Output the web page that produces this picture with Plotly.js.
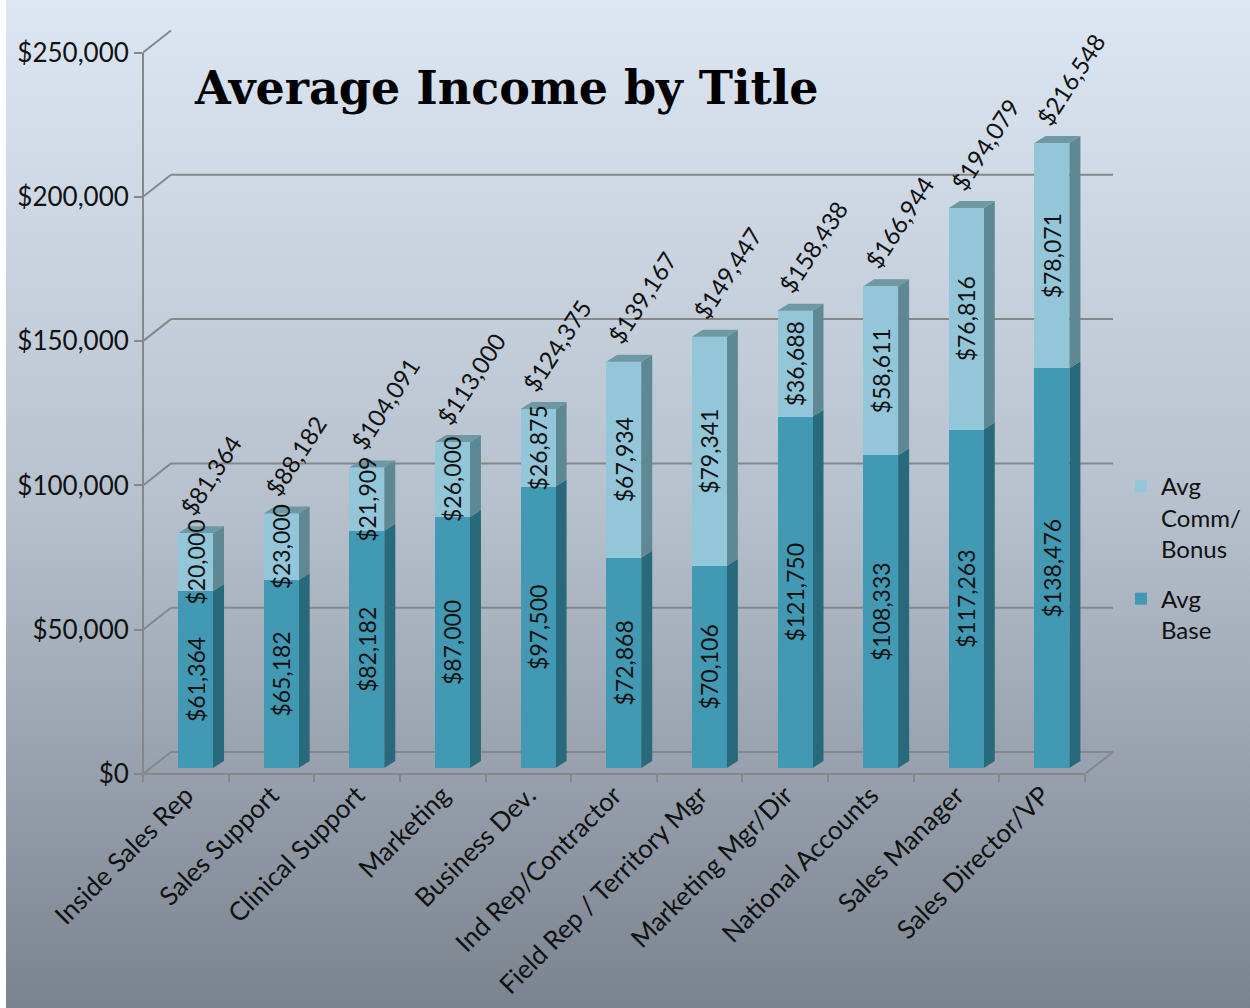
<!DOCTYPE html>
<html>
<head>
<meta charset="utf-8">
<script src="https://cdn.plot.ly/plotly-3.0.1.min.js"></script>
<style>
html,body{margin:0;padding:0;background:#ffffff;}
#chart{width:1250px;height:1008px;
background:linear-gradient(to right,#ffffff 0px,#ffffff 6px,rgba(255,255,255,0) 6px),linear-gradient(to bottom,#dde7f3 0%,#b7c1ce 50%,#7b838f 100%);}
</style>
</head>
<body>
<div id="chart"></div>
<script>
// ---------- data ----------
const categories = ['Inside Sales Rep','Sales Support','Clinical Support','Marketing','Business Dev.','Ind Rep/Contractor','Field Rep / Territory Mgr','Marketing Mgr/Dir','National Accounts','Sales Manager','Sales Director/VP'];
const avgBase = [61364,65182,82182,87000,97500,72868,70106,121750,108333,117263,138476];
const avgComm = [20000,23000,21909,26000,26875,67934,79341,36688,58611,76816,78071];
const totals = [81364,88182,104091,113000,124375,139167,149447,158438,166944,194079,216548];
const yTickVals = [0,50000,100000,150000,200000,250000];
const yTickText = ['$0','$50,000','$100,000','$150,000','$200,000','$250,000'];
const seriesNames = ['Avg<br>Base','Avg<br>Comm/<br>Bonus'];

// ---------- layout constants (pixels) ----------
const PLOT_L = 143, PLOT_R = 1122, PLOT_T = 26, PLOT_B = 774;
const PX_PER_CAT = 85.64, PX_PER_UNIT = 2.886/1000;
const xr1 = -0.5 + (PLOT_R-PLOT_L)/PX_PER_CAT;
const yr1 = (PLOT_B-PLOT_T)/PX_PER_UNIT;
const barShiftX = 9.7/PX_PER_CAT, barShiftY = 6/PX_PER_UNIT;
const depthX = 11/PX_PER_CAT, depthY = 7/PX_PER_UNIT;
const wallX = 28/PX_PER_CAT, wallY = 22/PX_PER_UNIT;
const barW = 35/PX_PER_CAT;

const FONT = 'Lato, "Open Sans", sans-serif';
const GRID = '#878787';
const TXT = '#111111';
const C_BASE = '#4299b3', C_COMM = '#93c6d8';
const C_BASE_SIDE = '#286a7b', C_COMM_SIDE = '#5e8994', C_TOP = '#6d98a4';

const fmt = v => '$' + v.toLocaleString('en-US');
const idx = categories.map((c,i)=>i);
const stackTop = idx.map(i => avgBase[i] + avgComm[i]);

// ---------- bar traces (bar plane: x2 / y2) ----------
function barTrace(name, vals, color, group, rank){
  return {
    type:'bar', name: name, legendgroup: group, legendrank: rank, x: idx, y: vals, xaxis:'x2', yaxis:'y2',
    width: barW, marker:{color:color, line:{width:0}},
    text: vals.map(fmt), textposition:'inside', insidetextanchor:'middle', textangle:-90,
    constraintext:'none', textfont:{family:FONT, size:23, color:TXT}, cliponaxis:false,
    hoverinfo:'skip'
  };
}
const baseTrace = barTrace(seriesNames[0], avgBase, C_BASE, 'base', 2);
const commTrace = barTrace(seriesNames[1], avgComm, C_COMM, 'comm', 1);

// ---------- 3D faces, drawn on the front axes (x / y) beneath the bars ----------
function facePoly(getPts){
  const xs=[], ys=[];
  idx.forEach(i=>{
    getPts(i).forEach(p=>{xs.push(p[0] + barShiftX); ys.push(p[1] + barShiftY);});
    xs.push(null); ys.push(null);
  });
  return {xs, ys};
}
const baseSide = facePoly(i=>{const xr=i+barW/2; return [[xr,0],[xr+depthX,depthY],[xr+depthX,avgBase[i]+depthY],[xr,avgBase[i]],[xr,0]];});
const commSide = facePoly(i=>{const xr=i+barW/2; return [[xr,avgBase[i]],[xr+depthX,avgBase[i]+depthY],[xr+depthX,stackTop[i]+depthY],[xr,stackTop[i]],[xr,avgBase[i]]];});
const topFace = facePoly(i=>{const xl=i-barW/2, xr=i+barW/2, t=stackTop[i]; return [[xl,t],[xl+depthX,t+depthY],[xr+depthX,t+depthY],[xr,t],[xl,t]];});

function faceTrace(f, color){
  return {type:'scatter', mode:'lines', x:f.xs, y:f.ys, xaxis:'x', yaxis:'y', fill:'toself',
    fillcolor:color, line:{width:0, color:color}, showlegend:false, hoverinfo:'skip'};
}

const data = [faceTrace(baseSide, C_BASE_SIDE), faceTrace(commSide, C_COMM_SIDE), faceTrace(topFace, C_TOP),
  baseTrace, commTrace];

// ---------- shapes: 3D frame ----------
const shapes = [];
const ln = (x0,y0,x1,y1) => ({type:'line', xref:'x', yref:'y', x0,y0,x1,y1, layer:'below', line:{color:GRID, width:2}});
yTickVals.forEach(v=>{
  shapes.push(ln(-0.5, v, -0.5+wallX, v+wallY));
  if (v < 250000) shapes.push(ln(-0.5+wallX, v+wallY, 10.5+wallX, v+wallY));
});
shapes.push(ln(10.5, 0, 10.5+wallX, wallY));
shapes.push({type:'line', xref:'x', yref:'paper', x0:-0.5, x1:10.5, y0:0, y1:0, layer:'below', line:{color:GRID, width:2}});
shapes.push({type:'line', xref:'paper', yref:'y', x0:0, x1:0, y0:0, y1:250000, layer:'below', line:{color:GRID, width:2}});

// ---------- annotations: totals ----------
const annotations = idx.map(i=>({
  xref:'x2', yref:'y2', x: i - barW/2, y: stackTop[i], text: fmt(totals[i]),
  showarrow:false, textangle:-57, xanchor:'left', yanchor:'bottom', xshift:-7, yshift:10,
  font:{family:FONT, size:24, color:TXT}
}));

const boundaries = categories.concat(['']).map((c,i)=>i-0.5);

const layout = {
  width:1250, height:1008,
  paper_bgcolor:'rgba(0,0,0,0)', plot_bgcolor:'rgba(0,0,0,0)',
  margin:{l:PLOT_L, r:1250-PLOT_R, t:PLOT_T, b:1008-PLOT_B, pad:0, autoexpand:false},
  barmode:'stack',
  title:{text:'Average Income by Title', font:{family:'"DejaVu Serif", serif', size:46, weight:700, color:'#000000'},
    xref:'container', yref:'container', x:195/1250, xanchor:'left', y:1-88/1008, yanchor:'middle'},
  xaxis:{range:[-0.5, xr1], tickmode:'array', tickvals: idx, ticktext: categories, tickangle:-45,
    ticks:'', showgrid:false, zeroline:false, showline:false, automargin:false,
    tickfont:{family:FONT, size:26, color:TXT},
    minor:{tickmode:'array', tickvals: boundaries, ticks:'outside', ticklen:7, tickwidth:2, tickcolor:GRID, showgrid:false}},
  yaxis:{range:[0, yr1], tickmode:'array', tickvals: yTickVals, ticktext: yTickText, automargin:false,
    ticks:'outside', ticklen:8, tickwidth:2, tickcolor:GRID, showline:false, showgrid:false, zeroline:false,
    tickfont:{family:FONT, size:26, color:TXT}},
  xaxis2:{overlaying:'x', range:[-0.5-barShiftX, xr1-barShiftX], visible:false},
  yaxis2:{overlaying:'y', range:[-barShiftY, yr1-barShiftY], visible:false},
  showlegend:true,
  legend:{xref:'container', yref:'container', x:1121/1250, y:1-464/1008, xanchor:'left', yanchor:'top',
    bgcolor:'rgba(0,0,0,0)', font:{family:FONT, size:24, color:TXT}, valign:'top',
    traceorder:'grouped', tracegroupgap:16, itemwidth:30},
  shapes: shapes,
  annotations: annotations
};

Plotly.newPlot('chart', data, layout, {displayModeBar:false, staticPlot:true});
</script>
</body>
</html>
